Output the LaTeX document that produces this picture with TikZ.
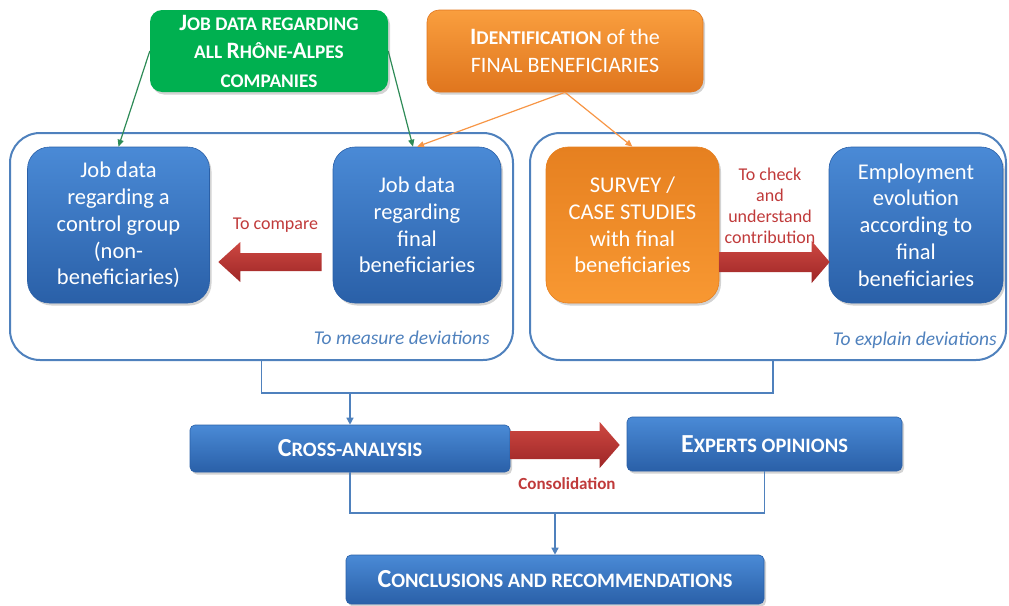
\documentclass[tikz,border=0pt]{standalone}
\usepackage{fontspec}
\setmainfont{Carlito}
\usetikzlibrary{calc,shadows,arrows.meta}
\definecolor{bluetop}{RGB}{74,138,214}
\definecolor{bluebot}{RGB}{42,96,168}
\definecolor{contline}{RGB}{79,129,189}
\definecolor{greenbox}{RGB}{0,176,80}
\definecolor{greenline}{RGB}{46,139,87}
\definecolor{orangetop}{RGB}{249,158,62}
\definecolor{orangebot}{RGB}{224,118,30}
\definecolor{surveytop}{RGB}{230,128,32}
\definecolor{surveybot}{RGB}{248,152,50}
\definecolor{orangeline}{RGB}{247,150,70}
\definecolor{redtop}{RGB}{205,72,66}
\definecolor{redbot}{RGB}{158,38,38}
\definecolor{redtext}{RGB}{192,58,58}
\newcommand\BL[2][26]{{\fontsize{#1}{28}\selectfont #2}}
\begin{document}
\begin{tikzpicture}[x=1pt,y=-1pt,
  shadowed/.style={drop shadow={shadow xshift=2pt,shadow yshift=-2.5pt,opacity=0.35}},
  bluebox/.style={shadowed,rounded corners=22pt,top color=bluetop,bottom color=bluebot,
    draw=bluebot,line width=0.6pt,text=white,align=center,inner sep=0pt,
    font=\fontsize{22.5}{26.8}\selectfont},
  flatbox/.style={shadowed,rounded corners=5pt,top color=bluetop,bottom color=bluebot,
    draw=bluebot,line width=0.6pt,text=white,align=center,inner sep=0pt,
    font=\bfseries\fontsize{20.5}{28}\selectfont},
  container/.style={draw=contline,line width=2pt,rounded corners=30pt,inner sep=0pt},
  conn/.style={draw=contline,line width=1.4pt},
  tipA/.style={-{Triangle[length=7pt,width=7pt]}},
  gline/.style={draw=greenline,line width=1.2pt,-{Triangle[length=7pt,width=6pt]}},
  oline/.style={draw=orangeline,line width=1.2pt,-{Triangle[length=7pt,width=6pt]}},
  fat/.style={top color=redtop,bottom color=redbot},
  redlbl/.style={text=redtext,font=\fontsize{18}{21}\selectfont,align=center,inner sep=0pt},
  bluelbl/.style={text=contline,font=\itshape\fontsize{19.5}{21}\selectfont,inner sep=0pt,anchor=east}
]
\useasboundingbox (0,0) rectangle (1009,605);

% containers
\node[container,minimum width=503pt,minimum height=227pt] (Lcont) at (261.5,246.5) {};
\node[container,minimum width=476pt,minimum height=227pt] (Rcont) at (768,246.5) {};

% top boxes
\node[shadowed,rounded corners=12pt,fill=greenbox,text=white,align=center,inner sep=0pt,
  minimum width=238pt,minimum height=82pt,font=\bfseries\fontsize{19.3}{28.5}\selectfont] (G) at (269,51)
  {\BL[23.5]{J}OB DATA REGARDING\\ALL \BL[23.5]{R}HÔNE-\BL[23.5]{A}LPES\\COMPANIES};
\node[shadowed,rounded corners=12pt,top color=orangetop,bottom color=orangebot,draw=orangebot,line width=0.6pt,
  text=white,align=center,inner sep=0pt,minimum width=276pt,minimum height=82pt,
  font=\fontsize{22}{28}\selectfont] (O) at (565,51)
  {{\bfseries\BL[23.5]{I}{\fontsize{19.5}{28}\selectfont DENTIFICATION}} of the\\FINAL BENEFICIARIES};

% inner boxes
\node[bluebox,minimum width=182pt,minimum height=156pt] (A) at (118.5,225)
  {Job data\\regarding a\\control group\\(non-\\beneficiaries)};
\node[bluebox,minimum width=168pt,minimum height=156pt] (B) at (417,225)
  {Job data\\regarding\\final\\beneficiaries};
\node[bluebox,top color=surveytop,bottom color=surveybot,draw=surveytop,minimum width=173pt,minimum height=156pt] (S) at (632.5,225)
  {SURVEY /\\CASE STUDIES\\with final\\beneficiaries};
\node[bluebox,minimum width=174pt,minimum height=156pt] (E) at (916,225)
  {Employment\\evolution\\according to\\final\\beneficiaries};

% bottom boxes
\node[flatbox,minimum width=320pt,minimum height=47pt] (C) at (350,448.5) {\BL{C}ROSS-ANALYSIS};
\node[flatbox,minimum width=275pt,minimum height=54pt] (X) at (764.5,444) {\BL{E}XPERTS OPINIONS};
\node[flatbox,minimum width=418pt,minimum height=49pt] (K) at (555,579.5) {\BL{C}ONCLUSIONS AND RECOMMENDATIONS};

% fat red arrows
\shade[fat] let \p1=($(B.west)+(-11,37)$), \p2=($(A.east)+(8.5,37)$) in
  (\x1,\y1+9pt) -- (\x2+22pt,\y1+9pt) -- (\x2+22pt,\y1+20pt) -- (\x2,\y2)
  -- (\x2+22pt,\y1-20pt) -- (\x2+22pt,\y1-9pt) -- (\x1,\y1-9pt) -- cycle;
\shade[fat] let \p1=($(S.east)+(0,37)$), \p2=($(E.west)+(1,37)$) in
  (\x1,\y1+10pt) -- (\x2-18pt,\y1+10pt) -- (\x2-18pt,\y1+21pt) -- (\x2,\y2)
  -- (\x2-18pt,\y1-21pt) -- (\x2-18pt,\y1-10pt) -- (\x1,\y1-10pt) -- cycle;
\shade[fat] let \p1=($(C.east)+(0,-3.5)$), \p2=($(X.west)+(-7,1)$) in
  (\x1,\y1+14pt) -- (\x2-20pt,\y1+14pt) -- (\x2-20pt,\y1+23pt) -- (\x2,\y2)
  -- (\x2-20pt,\y1-23pt) -- (\x2-20pt,\y1-14pt) -- (\x1,\y1-14pt) -- cycle;

% labels
\node[redlbl] (cmp) at (275.5,225) {To compare};
\node[redlbl] (chk) at (770,206) {To check\\and\\understand\\contribution};
\node[redlbl,font=\bfseries\fontsize{17}{18}\selectfont] (cons) at (567,484) {Consolidation};
\node[bluelbl] (md) at (490,338) {To measure deviations};
\node[bluelbl] (ed) at (997,340) {To explain deviations};

% connectors top
\draw[gline] (G.west) -- (A.north);
\draw[gline] (G.east) -- ($(B.north)+(-4,0)$);
\draw[oline] (O.south) -- (B.north);
\draw[oline] (O.south) -- (S.north);

% connectors bottom
\coordinate (j1) at (555,393);
\coordinate (j2) at (555,513);
\draw[conn] (Lcont.south) |- (j1) -| ($(Rcont.south)+(5,0)$);
\draw[conn,tipA] (C.north |- j1) -- (C.north);
\draw[conn] (C.south) |- (j2) -| (X.south);
\draw[conn,tipA] (j2) -- (K.north);
\end{tikzpicture}
\end{document}
